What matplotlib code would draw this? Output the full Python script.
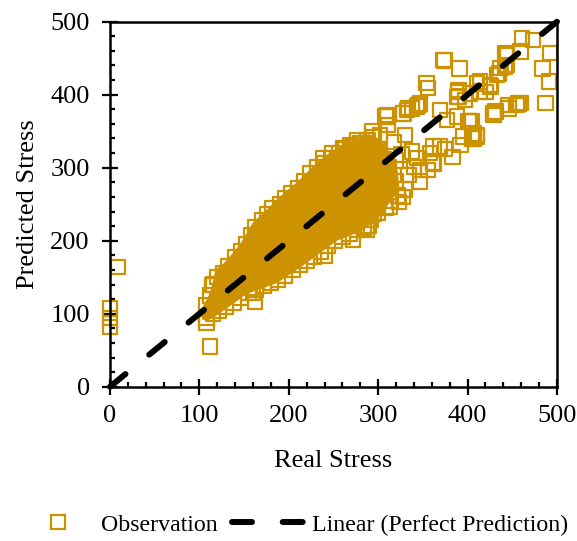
import matplotlib
matplotlib.use("Agg")
import matplotlib.pyplot as plt
from matplotlib.lines import Line2D
from matplotlib.ticker import MultipleLocator

plt.rcParams['font.family'] = ['Liberation Serif', 'DejaVu Serif']

outlier_x = [0, 0, 0, 9, 112, 108, 114, 160, 162, 240, 287, 461, 473, 492, 484, 491, 487,
             374, 391, 444, 442, 435, 425, 414, 420, 354, 356, 457, 446, 429, 431,
             390, 388, 397, 405, 407, 383, 369, 347, 328, 308, 338, 345, 328]
outlier_y = [107, 94, 82, 164, 55, 87, 139, 128, 116, 180, 215, 477, 475, 457, 436, 418, 389,
             447, 436, 454, 438, 429, 413, 418, 404, 416, 409, 388, 381, 372, 377,
             404, 397, 393, 363, 340, 315, 329, 281, 260, 370, 381, 386, 374]

upper_x = [108, 112, 115, 120, 127, 132, 140, 147, 152, 158, 163, 170, 176, 182, 190, 196,
           203, 210, 217, 224, 232, 240, 248, 256, 263, 271, 280, 288, 295]
upper_y = [112, 125, 140, 150, 156, 165, 178, 185, 195, 208, 218, 228, 236, 245, 250, 258,
           265, 272, 282, 292, 300, 306, 313, 320, 326, 330, 334, 338, 342]

lower_x = [108, 115, 122, 130, 138, 146, 155, 163, 172, 180, 188, 196, 204, 212, 220, 228,
           236, 244, 252, 260, 268, 276, 284, 292, 300, 308, 314, 322, 330]
lower_y = [95, 100, 104, 110, 115, 122, 128, 133, 138, 142, 146, 152, 160, 167, 172, 178,
           185, 193, 200, 205, 210, 215, 218, 228, 238, 245, 255, 262, 270]

right_x = [309.7, 328.3, 333.6, 344.8, 311.2, 292.9, 302.2, 276.2, 268.7, 248.2, 238.4, 260.8,
           358.2, 361.6, 347.0, 343.3, 459, 454.5, 445.9, 429.1, 373.1, 442.2, 459, 444.1,
           436.6, 432.9, 389.9, 410.5, 425.4, 414.2, 403, 389.9, 347, 332.1, 309.7, 343.3,
           403, 376.9, 369.4, 388, 406.7, 410.5, 395.5, 401, 405, 410, 392, 375, 362, 362,
           356, 340, 323, 313, 295, 289, 272, 318, 326, 334, 312, 320, 300, 306, 330, 338]
right_y = [372.2, 374.5, 381.8, 385.9, 358.5, 349.3, 344.8, 337.9, 331.1, 320.1, 313.3, 327.0,
           320.1, 306.4, 296.8, 313.3, 389, 385.9, 385.9, 374.5, 447.5, 456.7, 458.9, 440.7,
           436.2, 427, 406.4, 415.6, 411, 404.1, 401.9, 397.3, 388.2, 379, 369.9, 383.6,
           363, 365.3, 379, 369.9, 347.1, 342.5, 342.5, 363, 340, 345, 331, 326, 329, 306,
           297, 301, 253, 247, 237, 221, 201, 335, 318, 290, 300, 282, 325, 312, 345, 322]

inner_x = [120, 130, 140, 150, 160, 170, 180, 190, 200, 210, 220, 230, 240, 250, 260, 270,
           280, 290, 300, 310, 320, 180, 200, 220, 240, 260, 280, 300, 150, 170, 190, 210,
           230, 250, 270, 290]
inner_y = [120, 130, 145, 155, 165, 180, 190, 200, 210, 220, 235, 245, 255, 265, 275, 285,
           295, 300, 310, 300, 310, 170, 190, 200, 220, 240, 260, 270, 170, 200, 225, 250,
           270, 290, 310, 325]

obs_x = outlier_x + upper_x + lower_x + right_x + inner_x
obs_y = outlier_y + upper_y + lower_y + right_y + inner_y

# envelope of the region where the markers overlap into a solid mass
core_upper = [(103, 92), (103, 108), (112, 128), (118, 160), (128, 170), (145, 194),
              (160, 225), (175, 242), (187, 257), (209, 280), (235, 311), (257, 330),
              (276, 340), (290, 346), (303, 338), (315, 318), (322, 295)]
core_lower = [(324, 268), (316, 258), (304, 236), (283, 214), (254, 200), (216, 166),
              (187, 142), (153, 127), (120, 98), (110, 91)]

line_x = [0, 500]
line_y = [0, 500]

gold = '#CC9200'

fig = plt.figure(figsize=(5.77, 5.41), dpi=100)
ax = fig.add_axes([0.1906, 0.2852, 0.7747, 0.6747])

poly = core_upper + core_lower
ax.fill([p[0] for p in poly], [p[1] for p in poly], color=gold, lw=0, zorder=1)
ax.scatter(obs_x, obs_y, marker='s', s=108, facecolors='none', edgecolors=gold,
           linewidths=1.6, zorder=2, clip_on=False)
ax.plot(line_x, line_y, color='black', lw=4.3, dashes=(3.35, 5.14),
        dash_capstyle='round', zorder=3, clip_on=False)

ax.set_xlim(0, 500)
ax.set_ylim(0, 500)
ax.xaxis.set_major_locator(MultipleLocator(100))
ax.yaxis.set_major_locator(MultipleLocator(100))
ax.xaxis.set_minor_locator(MultipleLocator(20))
ax.yaxis.set_minor_locator(MultipleLocator(20))
ax.tick_params(which='major', direction='inout', length=11, width=1.6, labelsize=19, pad=7.5)
ax.tick_params(which='minor', direction='in', length=3.8, width=1.6)
ax.tick_params(axis='y', which='major', pad=9)
for s in ax.spines.values():
    s.set_linewidth(1.8)

ax.set_xlabel('Real Stress', fontsize=19, labelpad=17)
ax.set_ylabel('Predicted Stress', fontsize=19, labelpad=8)

h1 = Line2D([], [], marker='s', ms=10, mfc='none', mec=gold, mew=1.6, ls='none')
h2 = Line2D([], [], color='black', lw=4.3, dashes=(3.35, 5.14), dash_capstyle='round')
fig.legend([h1, h2], ['Observation', 'Linear (Perfect Prediction)'], loc='center',
           bbox_to_anchor=(0.511, 0.0296), ncol=2, frameon=False, fontsize=17.2,
           handlelength=3.1, handletextpad=0.25, columnspacing=0.6, borderpad=0)

fig.savefig('out.png', dpi=100)
